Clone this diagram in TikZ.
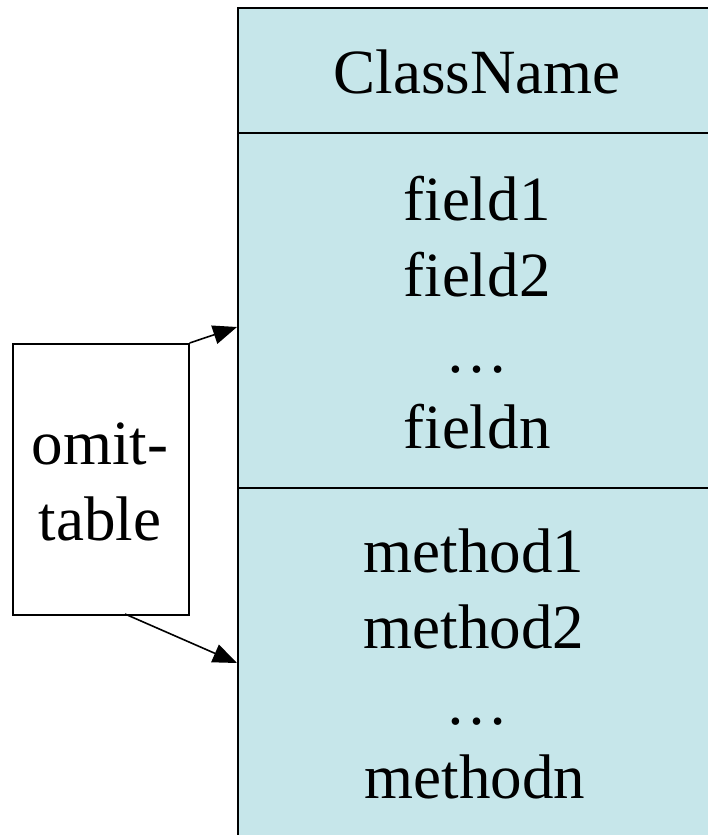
\documentclass[tikz,border=0pt]{standalone}
\usepackage{fontspec}
\setmainfont{Liberation Serif}
\usetikzlibrary{arrows.meta,calc}
\definecolor{classfill}{RGB}{198,230,234}
\tikzset{
  txt/.style={font=\fontsize{63}{76}\selectfont, anchor=base, inner sep=0pt},
  edge/.style={line width=1.6pt, -{Triangle[length=24pt,width=19pt]}},
  boxline/.style={draw=black, line width=1.6pt}
}
\begin{document}
\begin{tikzpicture}[x=1pt,y=-1pt]
\useasboundingbox (0,0) rectangle (708,835);
\clip (0,0) rectangle (708,835);
% class box
\node[boxline, fill=classfill, minimum width=483pt, minimum height=845pt, anchor=north west, inner sep=0pt] (cls) at (237,7) {};
\coordinate (d1l) at (237,133);
\coordinate (d1r) at (720,133);
\coordinate (d2l) at (237,488);
\coordinate (d2r) at (720,488);
\draw[boxline] (d1l) -- (d1r);
\draw[boxline] (d2l) -- (d2r);
% texts
\node[txt] (cn) at (477,93) {ClassName};
\node[txt] (f1) at (477,220) {field1};
\node[txt] (f2) at (477,296) {field2};
\node[txt] (fd) at (477,372) {\dots};
\node[txt] (fn) at (477,448) {fieldn};
\node[txt] (m1) at (474,572) {method1};
\node[txt] (m2) at (474,648) {method2};
\node[txt] (md) at (477,724) {\dots};
\node[txt] (mn) at (475,798) {methodn};
% omit-table box
\node[boxline, fill=white, minimum width=176pt, minimum height=271pt, anchor=north west, inner sep=0pt] (ob) at (12,343) {};
\node[txt] (o1) at (100,464) {omit-};
\node[txt] (o2) at (100,540) {table};
% arrows
\coordinate (a2s) at (125,614);
\coordinate (a1e) at (237,327);
\coordinate (a2e) at (237,663);
\draw[edge] (ob.north east) -- (a1e);
\draw[edge] (a2s) -- (a2e);
\end{tikzpicture}
\end{document}
